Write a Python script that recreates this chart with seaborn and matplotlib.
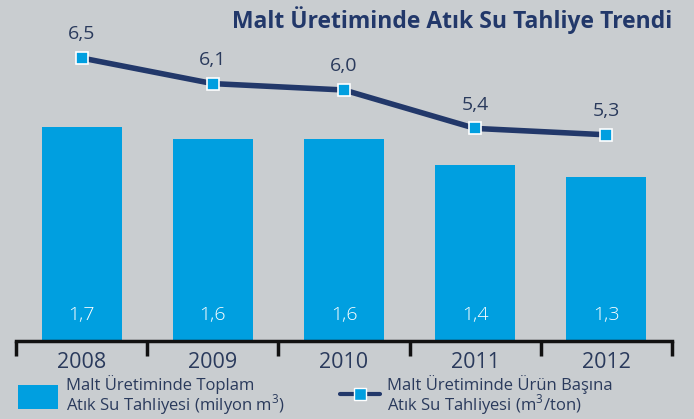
import numpy as np
import pandas as pd
import seaborn as sns
import matplotlib.pyplot as plt
from matplotlib.patches import Patch
from matplotlib.lines import Line2D

# veriler
years = ['2008', '2009', '2010', '2011', '2012']
total_discharge = [1.7, 1.6, 1.6, 1.4, 1.3]      # milyon m3
per_product = [6.5, 6.1, 6.0, 5.4, 5.3]          # m3/ton

title = 'Malt Üretiminde Atık Su Tahliye Trendi'
legend_bar = 'Malt Üretiminde Toplam\nAtık Su Tahliyesi (milyon m$^3$)'
legend_line = 'Malt Üretiminde Ürün Başına\nAtık Su Tahliyesi (m$^3$/ton)'

cyan = '#009fe0'
navy = '#22386a'
text_col = '#2a3a5c'
bg = '#c9cdd0'

sns.set_theme(style='white')
plt.rcParams['font.family'] = ['Open Sans', 'DejaVu Sans']
plt.rcParams['mathtext.fontset'] = 'custom'
plt.rcParams['mathtext.rm'] = 'Open Sans'

df = pd.DataFrame({'year': years, 'total': total_discharge, 'ratio': per_product})

fig = plt.figure(figsize=(6.94, 4.19), dpi=100, facecolor=bg)
ax = fig.add_axes([16 / 694, 1 - 341 / 419, 656 / 694, 341 / 419])
ax.set_facecolor('none')

sns.barplot(data=df, x='year', y='total', color=cyan, width=0.61,
            saturation=1, linewidth=0, ax=ax)
ax.set_xlim(-0.5, 4.5)
ax.set_ylim(0, 341 / 126)

# bar değerleri
for i, v in enumerate(total_discharge):
    ax.text(i, 0.21, f'{v:.1f}'.replace('.', ','), ha='center', va='center',
            color='white', fontsize=14, fontweight='light')

# eksen
for s in ['top', 'right', 'left']:
    ax.spines[s].set_visible(False)
ax.spines['bottom'].set_color('#111111')
ax.spines['bottom'].set_linewidth(2.5)
ax.set_yticks([])
ax.set_xlabel('')
ax.set_ylabel('')
ax.set_xticks(np.arange(-0.5, 5, 1), minor=True)
ax.tick_params(axis='x', which='minor', bottom=True, length=11, width=2.5,
               color='#111111', direction='out')
ax.tick_params(axis='x', which='major', length=0, pad=8, labelsize=15.5,
               labelcolor=text_col)

# çizgi (ikinci eksen)
ax2 = ax.twinx()
sns.pointplot(data=df, x='year', y='ratio', color=navy, marker='s',
              markersize=8, markerfacecolor=cyan, markeredgecolor='white',
              markeredgewidth=1.2, linewidth=4, ax=ax2)
ax2.set_xlim(-0.5, 4.5)
ax2.set_ylim((474 - 341) / 64, 474 / 64)
ax2.set_axis_off()

for i, v in enumerate(per_product):
    ax2.annotate(f'{v:.1f}'.replace('.', ','), (i, v), xytext=(0, 17),
                 textcoords='offset points', ha='center', va='center',
                 fontsize=14, color=text_col)

fig.text(672 / 694, 1 - 20 / 419, title, ha='right', va='center',
         fontsize=16.5, fontweight='bold', color=navy)

handles = [Patch(facecolor=cyan, edgecolor='none'),
           Line2D([0], [0], color=navy, lw=3, marker='s', markersize=8,
                  markerfacecolor=cyan, markeredgecolor='white')]
leg = fig.legend(handles, [legend_bar, legend_line], loc='lower left',
                 bbox_to_anchor=(0.005, -0.032), ncol=2, frameon=False,
                 fontsize=12, labelcolor=text_col, handlelength=2.4,
                 handleheight=1.8, handletextpad=0.45, columnspacing=3.3)
for t in leg.get_texts():
    t.set_linespacing(0.92)

fig.savefig('out.png', dpi=100, facecolor=bg)
